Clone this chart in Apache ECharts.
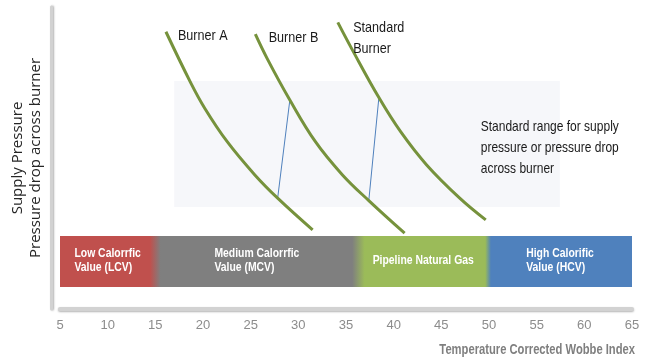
<!DOCTYPE html>
<html>
<head>
<meta charset="utf-8">
<script src="https://cdn.jsdelivr.net/npm/echarts@6/dist/echarts.min.js"></script>
<style>
  html, body { margin: 0; padding: 0; background: #ffffff; }
  #chart { width: 646px; height: 363px; }
</style>
</head>
<body>
<div id="chart"></div>
<script>
// Burner operating curves: [wobbe index, pressure]
const burnerNames = ['Burner A', 'Burner B', 'Standard\nBurner'];
const burnerA = [[16.11, 91.8], [18.65, 75.3], [20.18, 66.5], [22.54, 55.4], [25.44, 44.4], [27.83, 36.7], [31.5, 26.2]];
const burnerB = [[25.49, 91.0], [26.72, 83.0], [29.11, 69.2], [31.79, 55.4], [34.63, 44.4], [37.39, 35.9], [41.15, 25.1]];
const burnerStd = [[34.14, 94.9], [35.58, 86.3], [38.45, 70.0], [40.73, 58.7], [43.46, 47.7], [46.93, 36.7], [49.66, 29.5]];

// Shift lines between neighbouring burners
const shiftLines = [
  [[29.11, 69.2], [27.83, 36.7]],
  [[38.45, 70.0], [37.39, 35.9]]
];

// Standard supply pressure range: [x from, x to, y from, y to]
const rangeBox = [16.98, 57.43, 33.8, 75.5];
const rangeText = 'Standard range for supply\npressure or pressure drop\nacross burner';

// Gas quality bands along the wobbe axis
const bandEdges = [5, 15, 36.3, 49.9, 65];
const bandNames = ['Low Calorrfic\nValue (LCV)', 'Medium Calorrfic\nValue (MCV)', 'Pipeline Natural Gas', 'High Calorific\nValue (HCV)'];
const bandLevels = [7.3, 24.2];

const xTitle = 'Temperature Corrected Wobbe Index';
const yTitle = 'Supply Pressure\nPressure drop across burner';

// Layout / style settings
const SANS = '"Liberation Sans", Arial, sans-serif';
const bandColors = ['#c0504d', '#7f7f7f', '#9bbb59', '#4f81bd'];
const blendHalf = [0.55, 0.65, 0.3];
const bandFont = 'bold 13px ' + SANS;
const narrow = 0.8;            // horizontal squeeze for condensed-looking text
const labelSqueeze = 0.84;
const labelOffsets = [[12, 4], [13.3, 3.2], [15.4, 16]];
const rangeTextLeft = 49.13;   // wobbe value where the range note starts

const measureCtx = document.createElement('canvas').getContext('2d');
function blockWidth(text, font) {
  measureCtx.font = font;
  return Math.max.apply(null, text.split('\n').map(l => measureCtx.measureText(l).width));
}

function bandStops() {
  const span = bandEdges[bandEdges.length - 1] - bandEdges[0];
  const stops = [];
  for (let i = 0; i < bandColors.length; i++) {
    const a = bandEdges[i] + (i > 0 ? blendHalf[i - 1] : 0);
    const b = bandEdges[i + 1] - (i < bandColors.length - 1 ? blendHalf[i] : 0);
    stops.push({ offset: (a - bandEdges[0]) / span, color: bandColors[i] });
    stops.push({ offset: (b - bandEdges[0]) / span, color: bandColors[i] });
  }
  return stops;
}

function renderBands(params, api) {
  const p0 = api.coord([bandEdges[0], bandLevels[1]]);
  const p1 = api.coord([bandEdges[bandEdges.length - 1], bandLevels[0]]);
  const children = [{
    type: 'rect',
    shape: { x: p0[0], y: p0[1], width: p1[0] - p0[0], height: p1[1] - p0[1] },
    style: { fill: { type: 'linear', x: 0, y: 0, x2: 1, y2: 0, colorStops: bandStops() } }
  }];
  const midY = (p0[1] + p1[1]) / 2 - 1;
  bandNames.forEach((name, i) => {
    const cx = (api.coord([bandEdges[i], 0])[0] + api.coord([bandEdges[i + 1], 0])[0]) / 2;
    const w = blockWidth(name, bandFont) * narrow;
    children.push({
      type: 'text', x: cx - w / 2, y: midY, scaleX: narrow,
      style: {
        text: name, x: 0, y: 0, align: 'left', verticalAlign: 'middle',
        fill: '#ffffff', font: bandFont, lineHeight: 14
      }
    });
  });
  return { type: 'group', children };
}

function renderRange(params, api) {
  const p0 = api.coord([rangeBox[0], rangeBox[3]]);
  const p1 = api.coord([rangeBox[1], rangeBox[2]]);
  const tx = api.coord([rangeTextLeft, 0])[0];
  return {
    type: 'group',
    children: [
      {
        type: 'rect',
        shape: { x: p0[0], y: p0[1], width: p1[0] - p0[0], height: p1[1] - p0[1] },
        style: { fill: '#f6f7fa' }
      },
      {
        type: 'text', x: tx, y: (p0[1] + p1[1]) / 2 + 4, scaleX: narrow,
        style: {
          text: rangeText, x: 0, y: 0, align: 'left', verticalAlign: 'middle',
          fill: '#1a1a1a', font: '15px ' + SANS, lineHeight: 21
        }
      }
    ]
  };
}

const curves = [burnerA, burnerB, burnerStd];

function renderBurnerLabel(params, api) {
  const i = params.dataIndex;
  const p = api.coord([api.value(0), api.value(1)]);
  return {
    type: 'text', x: p[0] + labelOffsets[i][0], y: p[1] + labelOffsets[i][1], scaleX: labelSqueeze,
    style: {
      text: burnerNames[i], x: 0, y: 0, align: 'left', verticalAlign: 'middle',
      fill: '#1a1a1a', font: '15px ' + SANS, lineHeight: 21.5
    }
  };
}

const chart = echarts.init(document.getElementById('chart'), null, { renderer: 'canvas' });
chart.setOption({
  animation: false,
  backgroundColor: '#ffffff',
  grid: { left: 60, right: 14, top: 7, bottom: 54, containLabel: false, outerBoundsMode: 'none' },
  xAxis: {
    type: 'value', min: 5, max: 65, interval: 5,
    axisLine: {
      lineStyle: { color: '#d2d2d2', width: 4, shadowBlur: 2, shadowColor: 'rgba(0,0,0,0.3)', shadowOffsetY: 1 }
    },
    axisTick: { show: false },
    splitLine: { show: false },
    axisLabel: { color: '#8c8c8c', fontSize: 13, fontFamily: SANS, margin: 10 }
  },
  yAxis: {
    type: 'value', min: 0, max: 100, offset: 9,
    name: yTitle, nameLocation: 'middle', nameRotate: 90, nameGap: 6,
    nameTextStyle: { fontFamily: '"Open Sans", sans-serif', fontSize: 15, color: '#262626', lineHeight: 18 },
    axisLine: {
      show: true,
      lineStyle: { color: '#d2d2d2', width: 3, shadowBlur: 2, shadowColor: 'rgba(0,0,0,0.3)', shadowOffsetX: 1 }
    },
    axisTick: { show: false },
    axisLabel: { show: false },
    splitLine: { show: false }
  },
  graphic: [{
    type: 'text', x: 635, y: 350, scaleX: narrow,
    style: { text: xTitle, x: 0, y: 0, align: 'right', verticalAlign: 'middle', fill: '#7f7f7f', font: 'bold 14px ' + SANS }
  }],
  series: [
    { type: 'custom', renderItem: renderRange, data: [rangeBox], z: 1, silent: true },
    { type: 'custom', renderItem: renderBands, data: [[bandEdges[0], bandLevels[0]]], z: 2, silent: true },
    ...curves.map(c => ({
      type: 'line', data: c, smooth: 0.4, symbol: 'none', z: 5,
      lineStyle: { color: '#76923c', width: 3 }
    })),
    ...shiftLines.map(l => ({
      type: 'line', data: l, symbol: 'none', z: 4,
      lineStyle: { color: '#4f81bd', width: 1 }
    })),
    {
      type: 'custom', renderItem: renderBurnerLabel, z: 6, silent: true,
      data: curves.map(c => c[0])
    }
  ]
});
</script>
</body>
</html>
